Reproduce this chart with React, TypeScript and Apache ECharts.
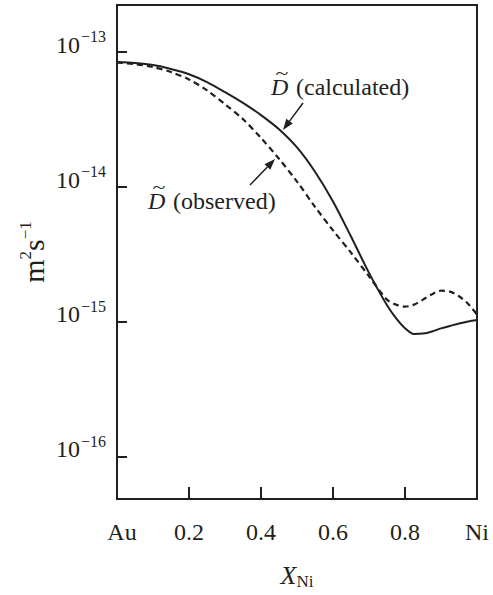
import React, { useEffect, useRef } from "react";
import * as echarts from "echarts";

// Mole fraction of Ni (0 = Au, 1 = Ni)
const xNi = [0, 0.05, 0.1, 0.15, 0.2, 0.25, 0.3, 0.35, 0.4, 0.45, 0.5, 0.55, 0.6, 0.65, 0.7, 0.75, 0.775, 0.8, 0.825, 0.85, 0.875, 0.9, 0.925, 0.95, 0.975, 1.0];
// log10 of interdiffusion coefficient (m^2 s^-1)
const calculatedLog10D = [-13.077, -13.084, -13.099, -13.128, -13.167, -13.225, -13.3, -13.38, -13.47, -13.575, -13.71, -13.89, -14.11, -14.37, -14.64, -14.88, -14.975, -15.05, -15.093, -15.09, -15.074, -15.051, -15.033, -15.015, -15.0, -14.989];
const observedLog10D = [-13.081, -13.092, -13.114, -13.151, -13.206, -13.287, -13.39, -13.5, -13.64, -13.794, -13.963, -14.15, -14.325, -14.49, -14.665, -14.838, -14.875, -14.89, -14.875, -14.838, -14.798, -14.772, -14.779, -14.813, -14.868, -14.949];

const yDecades = [-16, -15, -14, -13];
const yTickExponents = ["−16", "−15", "−14", "−13"];
const xTickLabels: Record<string, string> = { "0": "{au|Au}", "1": "Ni" };

const INK = "#231f20";
const SERIF = "Liberation Serif, DejaVu Serif, serif";

function arrow(x1: number, y1: number, x2: number, y2: number) {
  const a = Math.atan2(y2 - y1, x2 - x1);
  const L = 11, W = 4;
  const bx = x2 - L * Math.cos(a), by = y2 - L * Math.sin(a);
  const px = -Math.sin(a), py = Math.cos(a);
  return [
    { type: "line", shape: { x1, y1, x2: bx, y2: by }, style: { stroke: INK, lineWidth: 1.5 } },
    { type: "polygon", shape: { points: [[x2, y2], [bx + W * px, by + W * py], [bx - W * px, by - W * py]] }, style: { fill: INK } },
  ];
}

function label(dx: number, dy: number, word: string) {
  return [
    { type: "text", x: dx, y: dy, style: { text: "D", fontFamily: SERIF, fontStyle: "italic", fontSize: 24, fill: INK, align: "left", verticalAlign: "middle" } },
    { type: "text", x: dx + 11, y: dy - 14, scaleX: 1.4, style: { text: "~", fontFamily: SERIF, fontSize: 17, fill: INK, align: "center", verticalAlign: "middle" } },
    { type: "text", x: dx + 25, y: dy, style: { text: word, fontFamily: SERIF, fontSize: 24, fill: INK, align: "left", verticalAlign: "middle" } },
  ];
}

export default function App() {
  const ref = useRef<HTMLDivElement>(null);
  useEffect(() => {
    if (!ref.current) return;
    const chart = echarts.init(ref.current, null, { renderer: "svg" });
    const toPairs = (ys: number[]) => xNi.map((x, i) => [x, Math.pow(10, ys[i])]);
    chart.setOption({
      animation: false,
      grid: { left: 117, right: 16, top: 5, bottom: 92, show: true, borderColor: INK, borderWidth: 2 },
      xAxis: {
        type: "value",
        min: 0,
        max: 1,
        interval: 0.2,
        name: "{i|X}{sub|Ni}",
        nameLocation: "middle",
        nameGap: 62,
        nameTextStyle: {
          fontFamily: SERIF,
          fontSize: 26,
          color: INK,
          rich: {
            i: { fontFamily: SERIF, fontStyle: "italic", fontSize: 26, color: INK },
            sub: { fontFamily: SERIF, fontSize: 17, color: INK, padding: [12, 0, 0, 0] },
          },
        },
        axisLine: { show: true, lineStyle: { color: INK, width: 2 } },
        axisTick: { show: true, inside: true, length: 12, lineStyle: { color: INK, width: 2 } },
        splitLine: { show: false },
        axisLabel: {
          margin: 21,
          showMinLabel: true,
          showMaxLabel: true,
          fontFamily: SERIF,
          fontSize: 24,
          color: INK,
          rich: { au: { fontFamily: SERIF, fontSize: 24, color: INK, padding: [0, 0, 0, 10] } },
          formatter: (v: number) => {
            const key = String(Math.round(v * 10) / 10);
            return xTickLabels[key] ?? v.toFixed(1);
          },
        },
      },
      yAxis: {
        type: "log",
        logBase: 10,
        min: Math.pow(10, -16.316),
        max: Math.pow(10, -12.654),
        name: "{b|m}{s|2}{b|s}{s|−1}",
        nameLocation: "middle",
        nameRotate: 90,
        nameGap: 67,
        nameTextStyle: {
          fontFamily: SERIF,
          fontSize: 30,
          color: INK,
          rich: {
            b: { fontFamily: SERIF, fontSize: 30, color: INK },
            s: { fontFamily: SERIF, fontSize: 17, color: INK, padding: [0, 0, 16, 0] },
          },
        },
        axisLine: { show: true, lineStyle: { color: INK, width: 2 } },
        axisTick: { show: true, inside: true, length: 10, lineStyle: { color: INK, width: 2 } },
        minorTick: { show: false },
        splitLine: { show: false },
        axisLabel: { show: false },
      },
      series: [
        {
          name: "D calculated",
          type: "line",
          data: toPairs(calculatedLog10D),
          smooth: 0.3,
          showSymbol: false,
          lineStyle: { color: INK, width: 2, type: "solid" },
        },
        {
          name: "D observed",
          type: "line",
          data: toPairs(observedLog10D),
          smooth: 0.3,
          showSymbol: false,
          lineStyle: { color: INK, width: 2.2, type: [6, 4] },
        },
      ],
    });

    // y tick labels (10^n), placed at the decade positions given by the axis scale
    const yLabelEls: any[] = [];
    yDecades.forEach((d, i) => {
      const py = chart.convertToPixel({ yAxisIndex: 0 }, Math.pow(10, d)) as number;
      yLabelEls.push(
        { type: "text", x: 80, y: py - 7, style: { text: "10", fontFamily: SERIF, fontSize: 24, fill: INK, align: "right", verticalAlign: "middle" } },
        { type: "text", x: 81, y: py - 15, style: { text: yTickExponents[i], fontFamily: SERIF, fontSize: 16, fill: INK, align: "left", verticalAlign: "middle" } }
      );
    });

    chart.setOption({
      graphic: [
        ...yLabelEls,
        ...label(271, 87, "(calculated)"),
        ...arrow(303, 103, 283, 130),
        ...label(148, 201, "(observed)"),
        ...arrow(250, 185, 275, 159),
      ],
    });
    return () => chart.dispose();
  }, []);
  return <div ref={ref} style={{ width: 493, height: 595, position: "absolute", left: 0, top: 0 }} />;
}
